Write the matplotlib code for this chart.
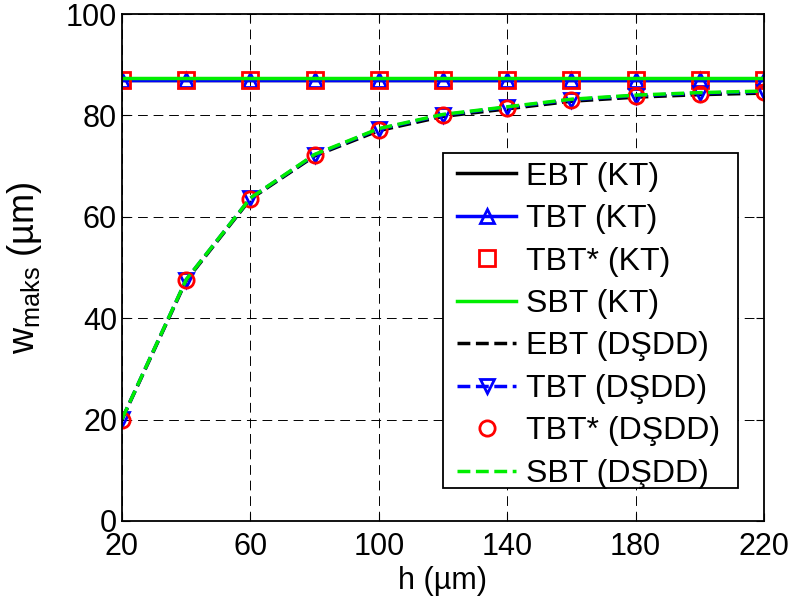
import matplotlib
matplotlib.use("Agg")
import matplotlib.pyplot as plt
from matplotlib.patches import Rectangle
import numpy as np

plt.rcParams['font.family'] = ['Liberation Sans', 'DejaVu Sans']
plt.rcParams['mathtext.fontset'] = 'custom'
plt.rcParams['mathtext.rm'] = 'Liberation Sans'
plt.rcParams['mathtext.it'] = 'Liberation Sans'

# data
h = [20, 40, 60, 80, 100, 120, 140, 160, 180, 200, 220]
ebt_kt = [86.9] * 11
tbt_kt = [87.0] * 11
tbts_kt = [87.0] * 11
sbt_kt = [87.3] * 11
ebt_dsdd = [20.0, 47.4, 63.5, 72.0, 77.0, 79.8, 81.3, 82.8, 83.6, 84.1, 84.4]
tbt_dsdd = [20.1, 47.6, 63.7, 72.2, 77.3, 80.1, 81.6, 83.1, 83.9, 84.4, 84.7]
tbts_dsdd = [20.0, 47.5, 63.6, 72.1, 77.2, 80.0, 81.5, 83.0, 83.8, 84.3, 84.6]
sbt_dsdd = [20.1, 47.6, 63.7, 72.3, 77.4, 80.2, 81.7, 83.2, 84.0, 84.5, 84.8]

labels = ['EBT (KT)', 'TBT (KT)', 'TBT* (KT)', 'SBT (KT)',
          'EBT (DŞDD)', 'TBT (DŞDD)', 'TBT* (DŞDD)', 'SBT (DŞDD)']
xticks = [20, 60, 100, 140, 180, 220]
yticks = [0, 20, 40, 60, 80, 100]

fig = plt.figure(figsize=(7.93, 6.07), dpi=100)
ax = fig.add_axes([0.1538, 0.1417, 0.8096, 0.8352])

lw = 2.5
green = '#00ee00'
ax.plot(h, ebt_kt, '-', color='black', lw=lw, label=labels[0])
ax.plot(h, tbt_kt, '-', color='blue', lw=lw, marker='^', ms=10, mfc='none',
        mew=2, label=labels[1])
ax.plot(h, tbts_kt, linestyle='none', color='red', marker='s', ms=11,
        mfc='none', mew=2, label=labels[2])
ax.plot(h, sbt_kt, '-', color=green, lw=lw, label=labels[3])
ax.plot(h, ebt_dsdd, '--', color='black', lw=lw, label=labels[4])
ax.plot(h, tbt_dsdd, '--', color='blue', lw=lw, marker='v', ms=10, mfc='none',
        mew=2, label=labels[5])
ax.plot(h, tbts_dsdd, linestyle='none', color='red', marker='o', ms=11,
        mfc='none', mew=2, label=labels[6])
ax.plot(h, sbt_dsdd, '--', color=green, lw=lw, label=labels[7])

ax.set_xlim(20, 220)
ax.set_ylim(0, 100)
ax.set_xticks(xticks)
ax.set_yticks(yticks)
ax.tick_params(direction='in', top=True, right=True, labelsize=22, length=6)
ax.tick_params(axis='x', pad=8)
ax.grid(True, color='black', linestyle=(0, (10, 6)), linewidth=0.7)
for s in ax.spines.values():
    s.set_linewidth(1.3)

ax.set_xlabel('h (µm)', fontsize=22, labelpad=3)
ax.set_ylabel(r'w$_{\mathrm{maks}}$ (µm)', fontsize=26, labelpad=16)

# legend box drawn separately so its padding matches the original
box = Rectangle((0.5, 0.0651), 0.4595, 0.6607, transform=ax.transAxes,
                facecolor='white', edgecolor='black', lw=1.3, zorder=4.9)
ax.add_patch(box)
leg = ax.legend(loc='upper left', fontsize=23, handlelength=1.85,
                labelspacing=0.39, borderpad=0, handletextpad=0.3,
                borderaxespad=0, frameon=False,
                bbox_to_anchor=(0.5218, 0.7089))
leg.set_zorder(5)

fig.savefig('out.png', dpi=100)
